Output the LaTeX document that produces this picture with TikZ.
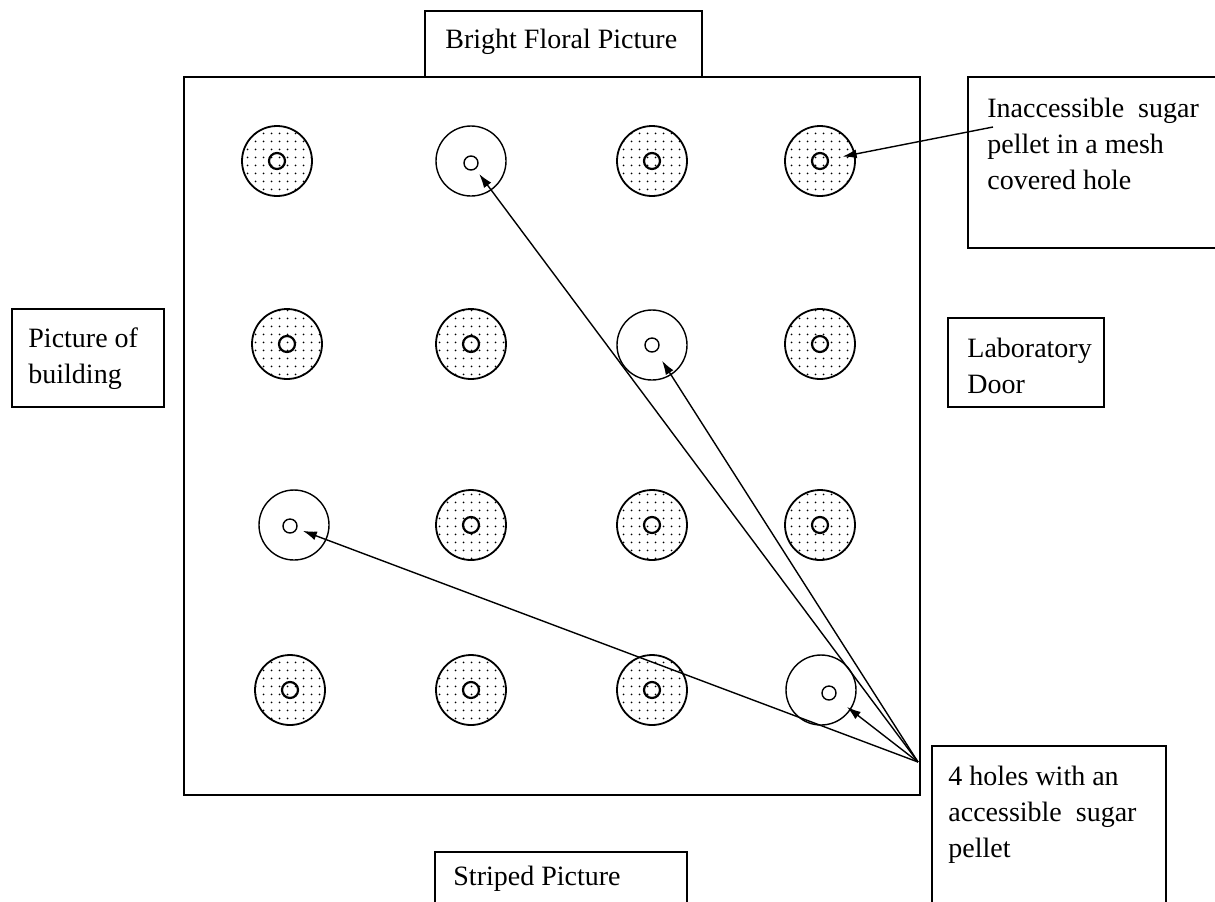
\documentclass[tikz,border=0pt]{standalone}
\usepackage{fontspec}
\setmainfont{Liberation Serif}
\usetikzlibrary{arrows.meta,patterns.meta}

\begin{document}
\begin{tikzpicture}[x=0.5pt,y=-0.5pt,>={Latex[length=7pt,width=4.5pt]},
  box/.style={draw,line width=0.9pt},
  label text/.style={anchor=base west,align=left,inner sep=0pt,font=\fontsize{14pt}{18pt}\selectfont},
  mesh hole/.style={circle,draw,line width=0.9pt,minimum size=35pt,inner sep=0pt,pattern={Dots[distance=4pt,radius=0.55pt]}},
  mesh pellet/.style={circle,draw,line width=1.1pt,minimum size=8pt,inner sep=0pt},
  open hole/.style={circle,draw,line width=0.7pt,minimum size=35pt,inner sep=0pt},
  open pellet/.style={circle,draw,line width=0.7pt,minimum size=7pt,inner sep=0pt},
  pointer/.style={->,line width=0.7pt}]

  \useasboundingbox (0,0) rectangle (1215,901);

  % the board
  \draw[box] (184,77) rectangle (920,795);

  % cues round the board (multi-line texts sit on their last baseline)
  \draw[box] (425,11) rectangle (702,77);
  \node[label text] (floral) at (445,48) {Bright Floral Picture};
  \draw[box] (12,309) rectangle (164,407);
  \node[label text] (building) at (28,383) {Picture of\\building};
  \draw[box] (948,318) rectangle (1104,407);
  \node[label text] (door) at (967,393) {Laboratory\\Door};
  \draw[box] (435,852) rectangle (687,912);
  \node[label text] (striped) at (453,885) {Striped Picture};

  % legend boxes
  \draw[box] (968,77) rectangle (1222,248);
  \node[label text] (inacc) at (987,189) {Inaccessible\ \ sugar\\pellet in a mesh\\covered hole};
  \draw[box] (932,746) rectangle (1166,912);
  \node[label text] (access) at (948,857) {4 holes with an\\accessible\ \ sugar\\pellet};

  % mesh covered holes
  \foreach \name/\x/\y in {a1/277/161,a3/652/161,a4/820/161,
                           b1/287/344,b2/471/344,b4/820/344,
                           c2/471/525,c3/652/525,c4/820/525,
                           d1/290/690,d2/471/690,d3/652/690}{
    \node[mesh hole] (\name) at (\x,\y) {};
    \node[mesh pellet] (\name p) at (\x,\y) {};
  }

  % open holes
  \node[open hole] (a2) at (471,161) {};
  \node[open pellet] (a2p) at (471,163) {};
  \node[open hole] (b3) at (652,345) {};
  \node[open pellet] (b3p) at (652,345) {};
  \node[open hole] (c1) at (294,525) {};
  \node[open pellet] (c1p) at (290,526) {};
  \node[open hole] (d4) at (821,690) {};
  \node[open pellet] (d4p) at (829,693) {};

  \coordinate (inacc tail) at (993,127);
  \coordinate (access tail) at (918,762);

  \draw[pointer,shorten >=7pt] (inacc tail) -- (a4p);
  \draw[pointer,shorten >=3pt] (access tail) -- (a2p);
  \draw[pointer,shorten >=5.5pt] (access tail) -- (b3p);
  \draw[pointer,shorten >=3pt] (access tail) -- (c1p);
  \draw[pointer,shorten >=7.5pt] (access tail) -- (d4p);

\end{tikzpicture}
\end{document}
